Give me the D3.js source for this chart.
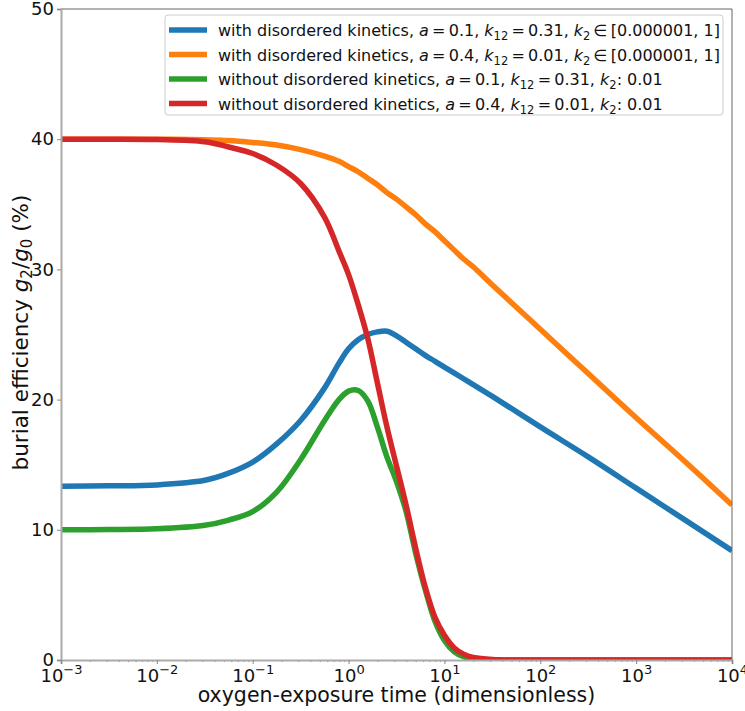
<!DOCTYPE html>
<html>
<head>
<meta charset="utf-8">
<script src="https://cdn.jsdelivr.net/npm/d3@7"></script>
<style>
  body { margin: 0; background: #fff; }
  text { font-family: "DejaVu Sans", sans-serif; }
</style>
</head>
<body>
<div id="chart-area"></div>
<script>
// burial efficiency vs oxygen-exposure time

// x values as powers of ten (exponents)
const xExp = [-3, -2.5, -2, -1.5, -1.25, -1, -0.75, -0.5, -0.25, -0.1, 0, 0.1, 0.2, 0.3, 0.4,
  0.5, 0.6, 0.7, 0.8, 0.9, 1, 1.1, 1.2, 1.3, 1.5, 2, 2.5, 3, 3.5, 4]

const blueVals = [13.35, 13.38, 13.45, 13.8, 14.35, 15.2, 16.6, 18.4, 20.9, 22.8, 23.9, 24.6, 25.0, 25.2, 25.25,
  24.9, 24.4, 23.9, 23.4, 22.95, 22.5, 22.05, 21.6, 21.15, 20.25, 17.9, 15.6, 13.2, 10.8, 8.4]
const orangeVals = [40, 40, 40, 39.95, 39.9, 39.75, 39.55, 39.2, 38.7, 38.3, 37.9, 37.5, 37.0, 36.5, 35.9,
  35.4, 34.8, 34.2, 33.5, 32.9, 32.2, 31.5, 30.8, 30.2, 28.8, 25.4, 22.0, 18.6, 15.3, 11.9]
const greenVals = [10.0, 10.02, 10.08, 10.35, 10.75, 11.4, 12.9, 15.4, 18.4, 20.0, 20.65, 20.7, 19.9, 17.9, 15.6,
  13.7, 11.4, 8.2, 5.4, 3.0, 1.5, 0.65, 0.25, 0.08, 0.02, 0, 0, 0, 0, 0]
const redVals = [40, 40, 39.97, 39.8, 39.4, 38.9, 38.0, 36.6, 34.0, 31.4, 29.6, 27.3, 24.7, 21.3, 17.9,
  14.9, 11.9, 8.6, 5.6, 3.3, 1.9, 0.95, 0.45, 0.2, 0.04, 0, 0, 0, 0, 0]

const seriesColors = ["#1f77b4", "#ff7f0e", "#2ca02c", "#d62728"]

// legend texts
const legendPrefix = ["with disordered kinetics, ", "with disordered kinetics, ",
  "without disordered kinetics, ", "without disordered kinetics, "]
const legendA = ["0.1", "0.4", "0.1", "0.4"]
const legendK12 = ["0.31", "0.01", "0.31", "0.01"]
const legendK2 = ["\u2009\u2208\u2009[0.000001, 1]", "\u2009\u2208\u2009[0.000001, 1]", ": 0.01", ": 0.01"]

const yTicks = [0, 10, 20, 30, 40, 50]
const xTickExp = [-3, -2, -1, 0, 1, 2, 3, 4]

const WIDTH = 745
const HEIGHT = 711
const PLOT = { LEFT: 61, RIGHT: 732, TOP: 9, BOTTOM: 660 }

const svg = d3.select("#chart-area").append("svg")
  .attr("width", WIDTH)
  .attr("height", HEIGHT)

const x = d3.scaleLog().domain([1e-3, 1e4]).range([PLOT.LEFT, PLOT.RIGHT])
const y = d3.scaleLinear().domain([0, 50]).range([PLOT.BOTTOM, PLOT.TOP])

svg.append("clipPath").attr("id", "clip")
  .append("rect")
  .attr("x", PLOT.LEFT).attr("y", PLOT.TOP)
  .attr("width", PLOT.RIGHT - PLOT.LEFT)
  .attr("height", PLOT.BOTTOM - PLOT.TOP + 1)

// lines
const line = d3.line()
  .x(d => x(Math.pow(10, d[0])))
  .y(d => y(d[1]))
  .curve(d3.curveCatmullRom.alpha(0.5))

const allSeries = [blueVals, orangeVals, greenVals, redVals]
allSeries.forEach((vals, i) => {
  svg.append("path")
    .attr("clip-path", "url(#clip)")
    .attr("fill", "none")
    .attr("stroke", seriesColors[i])
    .attr("stroke-width", 5.5)
    .attr("stroke-linejoin", "round")
    .attr("d", line(xExp.map((e, j) => [e, vals[j]])))
})

// frame
svg.append("line").attr("x1", PLOT.LEFT).attr("x2", PLOT.RIGHT)
  .attr("y1", PLOT.TOP).attr("y2", PLOT.TOP)
  .attr("stroke", "#666").attr("stroke-width", 1)
svg.append("line").attr("x1", PLOT.RIGHT).attr("x2", PLOT.RIGHT)
  .attr("y1", PLOT.TOP).attr("y2", PLOT.BOTTOM)
  .attr("stroke", "#666").attr("stroke-width", 1)

// y axis
const yAxis = svg.append("g")
  .attr("transform", `translate(${PLOT.LEFT}, 0)`)
  .call(d3.axisLeft(y).tickValues(yTicks).tickSize(4).tickPadding(3).tickFormat(d3.format("d")))
yAxis.select(".domain").attr("stroke", "#aaa").attr("stroke-width", 2)
yAxis.selectAll(".tick line").attr("stroke", "#888")
yAxis.selectAll(".tick text")
  .attr("font-size", "18px")
  .attr("fill", "#111")

// x axis, minor ticks
const minorVals = []
for (let e = -3; e < 4; e++) {
  for (let m = 2; m <= 9; m++) minorVals.push(m * Math.pow(10, e))
}
const xMinor = svg.append("g")
  .attr("transform", `translate(0, ${PLOT.BOTTOM})`)
  .call(d3.axisBottom(x).tickValues(minorVals).tickSize(2).tickFormat(""))
xMinor.select(".domain").remove()
xMinor.selectAll(".tick line").attr("stroke", "#888")

const xAxis = svg.append("g")
  .attr("transform", `translate(0, ${PLOT.BOTTOM})`)
  .call(d3.axisBottom(x).tickValues(xTickExp.map(e => Math.pow(10, e))).tickSize(4).tickFormat(""))
xAxis.select(".domain").attr("stroke", "#aaa").attr("stroke-width", 2)
xAxis.selectAll(".tick line").attr("stroke", "#888")

xAxis.selectAll(".tick").each(function(d, i) {
  const t = d3.select(this).append("text")
    .attr("y", 22)
    .attr("fill", "#111")
    .attr("font-size", "18px")
    .attr("text-anchor", "middle")
  t.append("tspan").text("10")
  const ex = xTickExp[i]
  t.append("tspan")
    .attr("dy", -8)
    .attr("font-size", "13px")
    .text(ex < 0 ? "\u2212" + Math.abs(ex) : String(ex))
})

// text helper with italic and subscript parts
function richText(sel, parts, subSize, subShift) {
  let shift = 0
  parts.forEach(p => {
    const ts = sel.append("tspan").text(p.t)
    const want = p.sub ? subShift : 0
    if (want !== shift) { ts.attr("dy", want - shift); shift = want }
    if (p.i) ts.attr("font-style", "italic")
    if (p.sub) ts.attr("font-size", subSize)
  })
}

// axis titles
svg.append("text")
  .attr("x", (PLOT.LEFT + PLOT.RIGHT) / 2)
  .attr("y", 702)
  .attr("text-anchor", "middle")
  .attr("font-size", "20.5px")
  .attr("fill", "#111")
  .text("oxygen-exposure time (dimensionless)")

const yTitle = svg.append("text")
  .attr("transform", `translate(28, ${(PLOT.TOP + PLOT.BOTTOM) / 2 - 2}) rotate(-90)`)
  .attr("text-anchor", "middle")
  .attr("font-size", "21.5px")
  .attr("fill", "#111")
richText(yTitle, [
  { t: "burial efficiency " }, { t: "g", i: true }, { t: "2", sub: true },
  { t: "/" }, { t: "g", i: true }, { t: "0", sub: true }, { t: " (%)" }
], "15px", 4)

// legend
const legend = svg.append("g")
legend.append("rect")
  .attr("x", 165).attr("y", 15)
  .attr("width", 558).attr("height", 100)
  .attr("rx", 3)
  .attr("fill", "#fff").attr("fill-opacity", 0.85)
  .attr("stroke", "#ccc").attr("stroke-width", 1)

legendPrefix.forEach((pre, i) => {
  const ly = 30 + i * 24.5
  legend.append("line")
    .attr("x1", 169).attr("x2", 207)
    .attr("y1", ly).attr("y2", ly)
    .attr("stroke", seriesColors[i])
    .attr("stroke-width", 5.5)
  const t = legend.append("text")
    .attr("x", 218).attr("y", ly + 6)
    .attr("font-size", "16px")
    .attr("fill", "#111")
  richText(t, [
    { t: pre }, { t: "a", i: true }, { t: "\u2009=\u2009" + legendA[i] + ", " },
    { t: "k", i: true }, { t: "12", sub: true }, { t: "\u2009=\u2009" + legendK12[i] + ", " },
    { t: "k", i: true }, { t: "2", sub: true }, { t: legendK2[i] }
  ], "11.5px", 4)
})
</script>
</body>
</html>
